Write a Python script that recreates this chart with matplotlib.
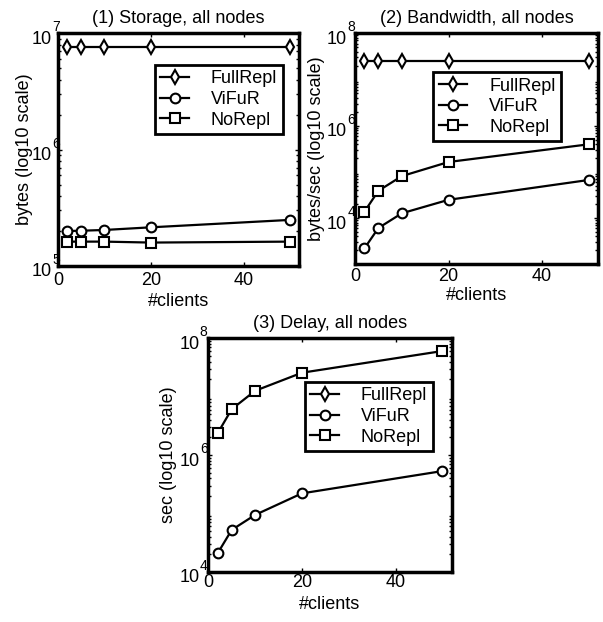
import numpy as np
import matplotlib
matplotlib.use('Agg')
import matplotlib.pyplot as plt
from matplotlib.ticker import FixedLocator, LogLocator, NullFormatter

plt.rcParams['font.family'] = ['Liberation Sans', 'DejaVu Sans']

# data
clients = [2, 5, 10, 20, 50]
series = ['FullRepl', 'ViFuR', 'NoRepl']
markers = ['d', 'o', 's']

storage_full = [7.7e6, 7.7e6, 7.7e6, 7.7e6, 7.7e6]
storage_vifur = [2.0e5, 2.01e5, 2.04e5, 2.15e5, 2.49e5]
storage_norepl = [1.62e5, 1.62e5, 1.62e5, 1.59e5, 1.62e5]

bw_full = [2.5e7, 2.5e7, 2.5e7, 2.5e7, 2.5e7]
bw_vifur = [2.2e3, 6.1e3, 1.27e4, 2.49e4, 6.7e4]
bw_norepl = [1.37e4, 3.9e4, 8.1e4, 1.64e5, 3.96e5]

delay_full = [np.nan] * 5  # not visible in the reference
delay_vifur = [2.07e4, 5.2e4, 9.4e4, 2.2e5, 5.3e5]
delay_norepl = [2.36e6, 6.1e6, 1.26e7, 2.57e7, 6.05e7]

W, H = 603, 622
fig = plt.figure(figsize=(W / 100, H / 100), dpi=100)


def px_axes(l, t, r, b):
    return fig.add_axes([l / W, (H - b) / H, (r - l) / W, (b - t) / H])


panels = [
    dict(box=(58, 33.3, 299.3, 266), title='(1) Storage, all nodes',
         ylabel='bytes (log10 scale)', ylim=(1e5, 1e7), yticks=[1e5, 1e6, 1e7],
         data=[storage_full, storage_vifur, storage_norepl], leg=(0.402, 0.864),
         xpad=4.5, xlpad=2.5, ylx=-0.104, ytgap=6),
    dict(box=(355, 33.3, 598.3, 264.3), title='(2) Bandwidth, all nodes',
         ylabel='bytes/sec (log10 scale)', ylim=(1e3, 1e8), yticks=[1e4, 1e6, 1e8],
         data=[bw_full, bw_vifur, bw_norepl], leg=(0.321, 0.832),
         xpad=2.5, xlpad=1.5, ylx=-0.123, ytgap=8),
    dict(box=(208.3, 338.3, 451.7, 571.7), title='(3) Delay, all nodes',
         ylabel='sec (log10 scale)', ylim=(1e4, 1e8), yticks=[1e4, 1e6, 1e8],
         data=[delay_full, delay_vifur, delay_norepl], leg=(0.397, 0.813),
         xpad=1.5, xlpad=4, ylx=-0.130, ytgap=9),
]

fs = 13
for p in panels:
    ax = px_axes(*p['box'])
    for name, mk, ys in zip(series, markers, p['data']):
        ax.plot(clients, ys, color='black', lw=1.6, marker=mk, ms=7 if mk != 'd' else 7.5,
                mfc='white', mec='black', mew=1.5, label=name)
    ax.set_yscale('log')
    ax.set_xlim(0, 52)
    ax.set_ylim(*p['ylim'])
    ax.set_xticks([0, 20, 40])
    ax.yaxis.set_major_locator(FixedLocator(p['yticks']))
    ax.yaxis.set_major_formatter(NullFormatter())
    ax.yaxis.set_minor_locator(LogLocator(base=10, subs=np.arange(2, 10), numticks=20))
    ax.yaxis.set_minor_formatter(NullFormatter())
    ax.tick_params(which='both', direction='in', top=True, right=True, labelsize=fs,
                   width=1)
    ax.tick_params(axis='x', pad=p['xpad'])
    ax.tick_params(which='major', length=3)
    ax.tick_params(which='minor', length=2)
    for sp in ax.spines.values():
        sp.set_linewidth(2.5)

    # MATLAB-style "10" with a raised exponent
    for v in p['yticks']:
        ax.annotate('10', xy=(0, v), xycoords=('axes fraction', 'data'),
                    xytext=(-p['ytgap'], -6), textcoords='offset pixels',
                    ha='right', va='center', fontsize=fs)
        ax.annotate('%d' % int(round(np.log10(v))), xy=(0, v),
                    xycoords=('axes fraction', 'data'),
                    xytext=(-p['ytgap'] + 0.5, 6), textcoords='offset pixels',
                    ha='left', va='center', fontsize=10)

    ax.set_title(p['title'], fontsize=fs, pad=7.5)
    ax.set_xlabel('#clients', fontsize=fs, labelpad=p['xlpad'])
    ax.set_ylabel(p['ylabel'], fontsize=fs)
    ax.yaxis.set_label_coords(p['ylx'], 0.5)
    leg = ax.legend(loc='upper left', bbox_to_anchor=p['leg'], borderaxespad=0,
                    fontsize=fs, fancybox=False, framealpha=1, edgecolor='black',
                    handlelength=1.6, handletextpad=1.2, labelspacing=0.2,
                    borderpad=0.3)
    leg.get_frame().set_linewidth(2)

fig.savefig('out.png', dpi=100)
